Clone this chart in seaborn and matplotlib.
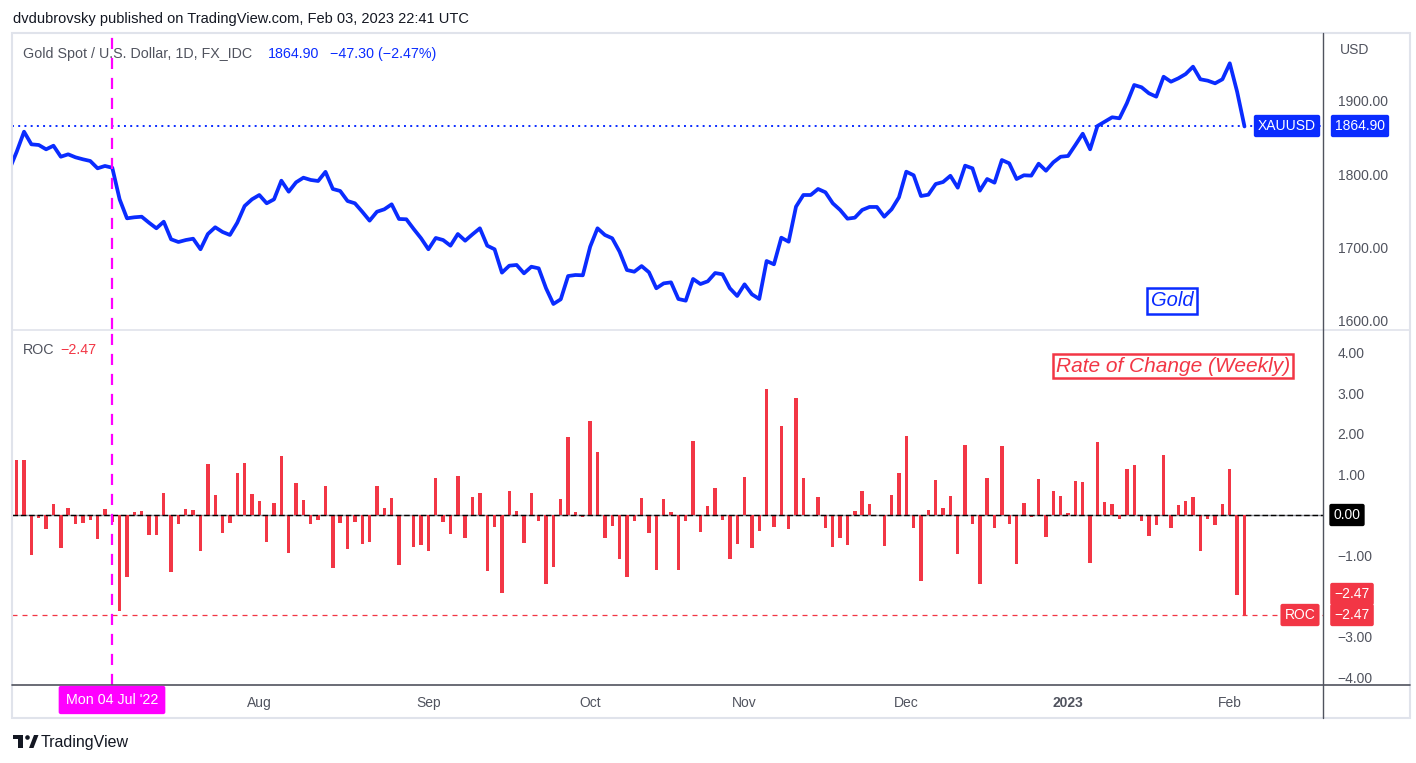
import numpy as np
import pandas as pd
import matplotlib.pyplot as plt
import seaborn as sns
from matplotlib.patches import Rectangle, Circle, Polygon

# Daily closes (XAUUSD, FX_IDC), first one is Jun 14 2022
dates = pd.bdate_range("2022-06-14", "2023-02-03")
gold_close = [
    1806.0,
    1830.4, 1857.7, 1840.5, 1839.6, 1833.7, 1838.6, 1823.6, 1826.9, 1822.8, 1820.1,
    1817.8, 1807.8, 1811.0, 1808.6, 1765.5, 1739.6, 1741.0, 1741.8, 1733.6, 1726.0,
    1735.0, 1711.0, 1707.3, 1710.0, 1711.8, 1697.4, 1718.2, 1727.4, 1721.0, 1716.9,
    1733.6, 1756.4, 1765.5, 1771.4, 1760.1, 1765.5, 1790.9, 1775.9, 1788.7, 1795.0,
    1791.9, 1790.5, 1803.0, 1779.6, 1776.9, 1763.2, 1760.1, 1748.6, 1736.4, 1748.6,
    1751.9, 1758.7, 1738.7, 1738.3, 1725.0, 1712.4, 1697.4, 1712.8, 1710.0, 1702.3,
    1718.2, 1709.1, 1717.8, 1726.0, 1702.3, 1697.4, 1665.5, 1675.0, 1676.0, 1664.6,
    1673.6, 1671.4, 1644.2, 1622.8, 1629.2, 1660.9, 1662.3, 1661.9, 1700.9, 1726.0,
    1716.9, 1712.4, 1694.1, 1669.1, 1666.8, 1674.5, 1666.0, 1644.2, 1650.9, 1652.3,
    1629.6, 1627.3, 1656.9, 1650.0, 1653.7, 1665.0, 1663.3, 1644.2, 1633.7, 1649.6,
    1636.0, 1629.6, 1681.4, 1676.9, 1713.2, 1707.7, 1755.5, 1771.4, 1771.4, 1779.6,
    1775.1, 1760.1, 1751.0, 1739.1, 1740.5, 1751.0, 1755.1, 1755.1, 1741.8, 1751.9,
    1768.2, 1803.2, 1798.3, 1770.0, 1771.8, 1786.4, 1789.1, 1797.6, 1781.4, 1811.4,
    1807.8, 1777.3, 1793.2, 1788.2, 1819.1, 1814.6, 1793.2, 1798.3, 1797.8, 1814.1,
    1804.5, 1816.0, 1823.6, 1824.6, 1839.6, 1855.0, 1833.7, 1865.5, 1871.4, 1877.4,
    1876.0, 1896.5, 1921.4, 1918.3, 1910.1, 1905.5, 1932.7, 1925.9, 1930.5, 1936.4,
    1946.4, 1929.2, 1927.3, 1923.7, 1929.2, 1951.0, 1912.2, 1864.9,
]

# ROC bars (%), from Jun 15 2022
roc_pct = [
    1.36, 1.36, -0.99, -0.07, -0.35, 0.27, -0.81, 0.17, -0.22, -0.20,
    -0.12, -0.59, 0.15, -0.18, -2.37, -1.53, 0.07, 0.10, -0.49, -0.49,
    0.54, -1.40, -0.22, 0.15, 0.12, -0.89, 1.26, 0.49, -0.44, -0.20,
    1.03, 1.28, 0.52, 0.35, -0.67, 0.30, 1.45, -0.94, 0.79, 0.37,
    -0.22, -0.12, 0.71, -1.31, -0.20, -0.84, -0.17, -0.71, -0.67, 0.71,
    0.17, 0.42, -1.23, -0.02, -0.79, -0.74, -0.89, 0.92, -0.17, -0.47,
    0.97, -0.57, 0.45, 0.53, -1.38, -0.30, -1.92, 0.58, 0.11, -0.69,
    0.53, -0.15, -1.70, -1.28, 0.40, 1.93, 0.07, -0.04, 2.32, 1.54,
    -0.57, -0.27, -1.08, -1.53, -0.15, 0.43, -0.44, -1.36, 0.40, 0.08,
    -1.36, -0.15, 1.83, -0.42, 0.21, 0.67, -0.12, -1.08, -0.71, 0.94,
    -0.81, -0.39, 3.11, -0.30, 2.20, -0.35, 2.87, 0.90, 0.00, 0.45,
    -0.32, -0.79, -0.57, -0.74, 0.11, 0.58, 0.28, 0.00, -0.76, 0.49,
    1.03, 1.94, -0.31, -1.62, 0.12, 0.86, 0.17, 0.48, -0.95, 1.72,
    -0.21, -1.71, 0.91, -0.31, 1.70, -0.21, -1.20, 0.30, -0.04, 0.89,
    -0.53, 0.59, 0.47, 0.05, 0.84, 0.81, -1.17, 1.80, 0.32, 0.27,
    -0.09, 1.13, 1.23, -0.14, -0.51, -0.24, 1.48, -0.31, 0.25, 0.35,
    0.44, -0.88, -0.09, -0.24, 0.27, 1.13, -1.96, -2.47,
]

month_labels = ["Aug", "Sep", "Oct", "Nov", "Dec", "2023", "Feb"]
price_ticks = [1600, 1700, 1800, 1900]
roc_ticks = [4, 3, 2, 1, -1, -3, -4]
last_price = 1864.90
last_change = -47.30
last_roc = -2.47
marker_date = pd.Timestamp("2022-07-04")

BLUE = "#0a2cff"
RED = "#f23645"
MAGENTA = "#ff00ff"
GREY = "#50535e"
W, H = 1416, 763

df = pd.DataFrame({"date": dates, "close": gold_close})
df["bar"] = np.arange(len(df)) - 1
roc_df = pd.DataFrame({"bar": df["bar"].values[1:], "roc": roc_pct})

sns.set_theme(style="white")
plt.rcParams["font.family"] = ["Liberation Sans", "DejaVu Sans"]

fig = plt.figure(figsize=(W / 100, H / 100), dpi=100)
fig.patch.set_facecolor("white")


def box(l, t, r, b):
    return [l / W, 1 - b / H, (r - l) / W, (b - t) / H]


ax1 = fig.add_axes(box(12, 33, 1323, 329))
ax2 = fig.add_axes(box(12, 330, 1323, 685))

# pixel mapping of the original chart
x0_px, step_px = 16.7, 7.352
xlim = ((12 - x0_px) / step_px, (1323 - x0_px) / step_px)

# price pane
sns.lineplot(data=df, x="bar", y="close", ax=ax1, color=BLUE, linewidth=2.7)
ax1.axhline(last_price, color=BLUE, lw=1.4, ls=(0, (1, 2.2)))
ax1.set_xlim(*xlim)
ax1.set_ylim(1900 - (329 - 100.7) / 0.7333, 1900 + (100.7 - 33) / 0.7333)
ax1.yaxis.tick_right()
ax1.set_yticks(price_ticks)
ax1.set_yticklabels([f"{v:.2f}" for v in price_ticks])
ax1.set_xticks([])

# ROC pane
sns.barplot(data=roc_df, x="bar", y="roc", ax=ax2, native_scale=True,
            color=RED, saturation=1, width=0.46, errorbar=None, linewidth=0)
ax2.axhline(0, color="#9598a1", lw=1.0, zorder=0)
ax2.axhline(0, color="black", lw=1.0, ls=(0, (4, 2)), zorder=3)
ax2.axhline(last_roc, color=RED, lw=0.9, ls=(0, (4, 4)))
ax2.set_xlim(*xlim)
ax2.set_ylim(-(685 - 515) / 40.6, (515 - 330) / 40.6)
ax2.yaxis.tick_right()
ax2.set_yticks(roc_ticks)
ax2.set_yticklabels([f"{v:.2f}".replace("-", "\u2212") for v in roc_ticks])

month_first = df[df["date"] >= "2022-08-01"].groupby(df["date"].dt.to_period("M"))["bar"].first()
ax2.set_xticks(month_first.values)
ax2.set_xticklabels(month_labels)
for lab in ax2.get_xticklabels():
    if lab.get_text() == "2023":
        lab.set_fontweight("bold")

marker_bar = df.loc[df["date"] == marker_date, "bar"].iloc[0]
for ax in (ax1, ax2):
    ax.axvline(marker_bar, color=MAGENTA, lw=1.6, ls=(0, (5, 4)), zorder=4)
    ax.set_xlabel("")
    ax.set_ylabel("")
    ax.grid(False)
    for s in ax.spines.values():
        s.set_visible(False)
    ax.tick_params(axis="both", length=0, labelsize=10, labelcolor=GREY, pad=10.5)
ax2.tick_params(axis="x", pad=8)

# overlay in pixel coordinates for frame, labels and boxes
ov = fig.add_axes([0, 0, 1, 1], zorder=5)
ov.set_xlim(0, W)
ov.set_ylim(H, 0)
ov.axis("off")
ov.patch.set_alpha(0)

frame = "#e0e3eb"
ov.add_patch(Rectangle((12, 33), 1398, 685, fill=False, ec=frame, lw=1.5))
ov.plot([12, 1410], [329.5, 329.5], color=frame, lw=1.2)
ov.plot([12, 1410], [685, 685], color=GREY, lw=1.2)
ov.plot([1323, 1323], [33, 718], color=GREY, lw=1.0)

ov.text(13, 19, "dvdubrovsky published on TradingView.com, Feb 03, 2023 22:41 UTC",
        fontsize=10.5, color="#131722", va="center")
ov.text(23, 54, "Gold Spot / U.S. Dollar, 1D, FX_IDC", fontsize=10.3, color=GREY, va="center")
ov.text(268, 54, f"{last_price:.2f}", fontsize=10.3, color=BLUE, va="center")
ov.text(330, 54, f"{last_change:.2f} ({last_roc:.2f}%)".replace("-", "\u2212"),
        fontsize=10.3, color=BLUE, va="center")
ov.text(23, 350, "ROC", fontsize=10.3, color=GREY, va="center")
ov.text(60, 350, f"{last_roc:.2f}".replace("-", "\u2212"), fontsize=10.3, color=RED, va="center")
ov.text(1340, 50, "USD", fontsize=10, color=GREY, va="center")


def tag(x, y, s, fc, size=10, pad=0.3):
    ov.text(x, y, s, fontsize=size, color="white", ha="center", va="center",
            bbox=dict(boxstyle=f"round,pad={pad},rounding_size=0.15", fc=fc, ec="none"))


tag(1287, 126, "XAUUSD", BLUE)
tag(1360, 126, f"{last_price:.2f}", BLUE)
tag(1347, 515, "0.00", "black")
tag(1352, 594, f"{last_roc:.2f}".replace("-", "\u2212"), RED)
tag(1352, 615, f"{last_roc:.2f}".replace("-", "\u2212"), RED)
tag(1300, 615, "ROC", RED)
tag(112, 700, "Mon 04 Jul '22", MAGENTA, size=10.3, pad=0.5)

ov.text(1172, 301, "Gold", fontsize=14.5, style="italic", color=BLUE, ha="center", va="center",
        bbox=dict(boxstyle="square,pad=0.16", fc="white", ec=BLUE, lw=1.8))
ov.text(1173, 366, "Rate of Change (Weekly)", fontsize=15, style="italic", color=RED,
        ha="center", va="center",
        bbox=dict(boxstyle="square,pad=0.12", fc="white", ec=RED, lw=1.8))

# TradingView logo
ov.add_patch(Rectangle((13, 735), 10, 4, color="#131722", lw=0))
ov.add_patch(Rectangle((18, 735), 5, 13, color="#131722", lw=0))
ov.add_patch(Circle((27.5, 737.5), 2.3, color="#131722", lw=0))
ov.add_patch(Polygon([(29, 748), (34, 735), (38.5, 735), (33.5, 748)], color="#131722", lw=0))
ov.text(41, 742, "TradingView", fontsize=11.5, color="#131722", va="center")

fig.savefig("out.png", dpi=100, facecolor="white")
